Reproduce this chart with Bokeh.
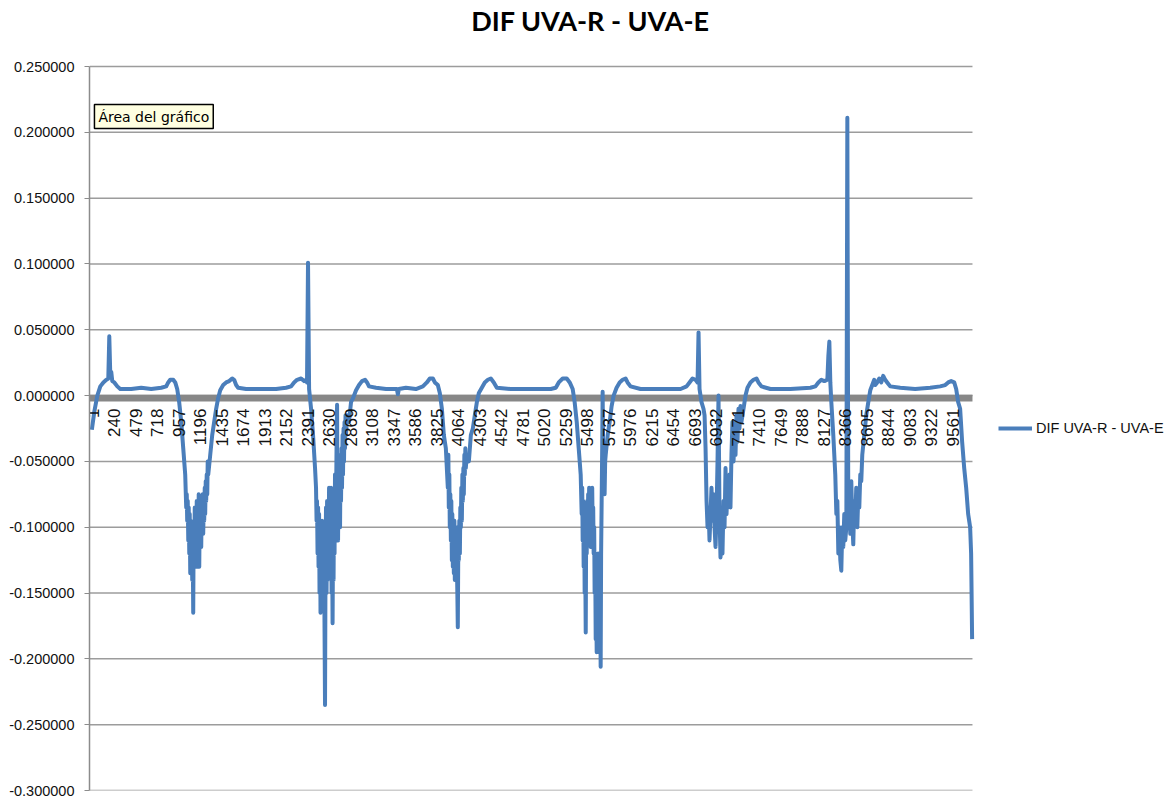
from bokeh.plotting import figure
from bokeh.models import (FixedTicker, PrintfTickFormatter, ColumnDataSource, Legend, LegendItem,
                          Label, BoxAnnotation)
from bokeh.core.properties import value
from bokeh.embed import file_html
from bokeh.resources import INLINE

# ---- data (sample index, DIF UVA-R - UVA-E) ----
idx_a = [1, 29, 62, 95, 129, 162, 184, 195, 206, 217, 228, 251, 284, 317, 439, 550, 661, 772, 828, 850,
         872, 906, 928, 950, 972, 995, 1017, 1039,
         1050, 1056, 1061, 1067, 1073, 1078, 1084, 1089, 1095, 1100, 1106, 1111, 1117, 1122, 1128, 1133,
         1139, 1145, 1150, 1156, 1162, 1167, 1173, 1178, 1184, 1189, 1195, 1200, 1206, 1211, 1217, 1222,
         1228, 1233, 1239, 1245, 1250, 1256, 1261, 1267, 1272, 1278, 1284, 1289, 1295,
         1317, 1339, 1361, 1383, 1405, 1428, 1461, 1494, 1528, 1561, 1583, 1605, 1627, 1716, 1883, 2049,
         2160, 2216, 2249, 2282, 2327, 2360, 2382, 2393]
val_a = [-0.026, -0.012, 0.000, 0.007, 0.010, 0.012, 0.013, 0.045, 0.016, 0.018, 0.011, 0.010, 0.007, 0.005,
         0.005, 0.006, 0.005, 0.006, 0.007, 0.010, 0.012, 0.012, 0.010, 0.005, -0.005, -0.020, -0.040, -0.060,
         -0.085, -0.075, -0.095, -0.080, -0.110, -0.085, -0.120, -0.090, -0.135, -0.095, -0.125, -0.100,
         -0.140, -0.110, -0.165, -0.100, -0.125, -0.085, -0.120, -0.090, -0.130, -0.080, -0.125, -0.095,
         -0.115, -0.075, -0.130, -0.090, -0.110, -0.080, -0.115, -0.085, -0.100, -0.075, -0.105, -0.080,
         -0.095, -0.070, -0.090, -0.065, -0.080, -0.060, -0.075, -0.050, -0.060,
         -0.045, -0.030, -0.020, -0.010, -0.002, 0.004, 0.008, 0.010, 0.011, 0.013, 0.012, 0.008, 0.006,
         0.005, 0.005, 0.005, 0.006, 0.007, 0.010, 0.012, 0.013, 0.011, 0.012, 0.010]

idx_b = [2404, 2416, 2438, 2460, 2482,
         2493, 2499, 2504, 2510, 2516, 2521, 2527, 2532, 2538, 2543, 2549, 2554, 2560, 2566, 2571, 2577,
         2582, 2588, 2593, 2599, 2604, 2610, 2616, 2621, 2627, 2632, 2638, 2643, 2649, 2654, 2660, 2666,
         2671, 2677, 2682, 2688, 2693, 2699, 2704, 2710, 2715, 2721, 2727, 2732, 2738, 2743, 2749, 2754,
         2760, 2766, 2771, 2777, 2782, 2788, 2793, 2799, 2804, 2810, 2815, 2821, 2826, 2838, 2860, 2882,
         2904, 2938, 2971, 3004, 3038, 3060, 3082, 3160, 3271, 3392, 3403, 3414, 3492, 3603, 3681, 3725,
         3758, 3792, 3814, 3847, 3869]
val_b = [0.101, 0.005, -0.010, -0.030, -0.055,
         -0.070, -0.095, -0.080, -0.120, -0.085, -0.130, -0.090, -0.150, -0.095, -0.165, -0.100, -0.160,
         -0.095, -0.140, -0.105, -0.150, -0.110, -0.180, -0.235, -0.120, -0.085, -0.150, -0.080, -0.140,
         -0.095, -0.120, -0.070, -0.130, -0.085, -0.120, -0.070, -0.150, -0.100, -0.173, -0.110, -0.140,
         -0.080, -0.120, -0.060, -0.110, -0.090, -0.040, -0.007, -0.090, -0.110, -0.060, -0.095, -0.050,
         -0.100, -0.045, -0.080, -0.040, -0.070, -0.030, -0.060, -0.025, -0.050, -0.020, -0.040, -0.015,
         -0.030, -0.015, -0.020, -0.005,
         -0.002, 0.004, 0.008, 0.011, 0.012, 0.010, 0.007, 0.006, 0.005, 0.005, 0.001, 0.005, 0.006, 0.005,
         0.007, 0.010, 0.013, 0.013, 0.010, 0.008, 0.002]

idx_c = [3892, 3914, 3936,
         3958, 3964, 3969, 3975, 3980, 3986, 3992, 3997, 4003, 4008, 4014, 4020, 4025, 4031, 4036, 4042,
         4047, 4053, 4058, 4064, 4069, 4075, 4080, 4086, 4092, 4097, 4103, 4108, 4114, 4120, 4125, 4131,
         4136, 4142, 4147, 4153, 4158, 4169,
         4192, 4214, 4236, 4258, 4281, 4303, 4336, 4369, 4403, 4436, 4469, 4503, 4658, 4880, 5102, 5158,
         5191, 5235, 5280, 5313, 5346]
val_c = [-0.010, -0.030, -0.040,
         -0.070, -0.045, -0.085, -0.060, -0.100, -0.075, -0.110, -0.080, -0.125, -0.090, -0.130, -0.100,
         -0.135, -0.095, -0.140, -0.105, -0.130, -0.100, -0.125, -0.150, -0.176, -0.110, -0.125, -0.095,
         -0.120, -0.085, -0.100, -0.070, -0.095, -0.060, -0.080, -0.055, -0.075, -0.045, -0.060, -0.040,
         -0.055, -0.045,
         -0.050, -0.030, -0.025, -0.015, -0.005, 0.002, 0.006, 0.010, 0.012, 0.013, 0.010, 0.006, 0.005,
         0.005, 0.005, 0.006, 0.010, 0.013, 0.013, 0.010, 0.005]

idx_d = [5368, 5391, 5413, 5435,
         5446, 5452, 5457, 5463, 5468, 5474, 5479, 5485, 5491, 5496, 5502, 5507, 5513, 5518, 5524, 5529,
         5535, 5541, 5546, 5552, 5557, 5563, 5568, 5574, 5579, 5585, 5590, 5596, 5602, 5607, 5613, 5618,
         5624, 5629, 5635, 5640, 5646, 5652, 5657, 5662, 5668, 5674, 5679, 5685, 5690, 5696, 5701, 5707,
         5713, 5735, 5757, 5779, 5801, 5834, 5868, 5901, 5934, 5956, 5989, 6100, 6323, 6545, 6612, 6645,
         6678, 6712, 6734]
val_d = [-0.005, -0.020, -0.040, -0.060,
         -0.090, -0.070, -0.110, -0.080, -0.130, -0.090, -0.150, -0.120, -0.180, -0.100, -0.120, -0.080,
         -0.110, -0.075, -0.100, -0.070, -0.110, -0.075, -0.115, -0.080, -0.110, -0.070, -0.100, -0.085,
         -0.120, -0.100, -0.150, -0.120, -0.185, -0.150, -0.195, -0.140, -0.180, -0.120, -0.190, -0.130,
         -0.195, -0.150, -0.206, -0.120, -0.080, -0.040, 0.003, -0.050, -0.070, -0.050, -0.075, -0.050,
         -0.045, -0.030, -0.020, -0.008, 0.000, 0.006, 0.010, 0.012, 0.013, 0.010, 0.007, 0.005, 0.005,
         0.005, 0.007, 0.010, 0.013, 0.012, 0.010]

idx_e = [6745, 6756, 6778, 6800, 6812, 6823, 6834, 6845, 6856, 6867, 6878, 6889, 6900, 6912, 6923, 6934,
         6945, 6956, 6967, 6978, 6989, 7000, 7011, 7023, 7034, 7045, 7056, 7067, 7078, 7089, 7100, 7111,
         7122, 7134, 7145, 7156, 7167, 7178, 7189, 7200, 7211, 7222, 7245, 7267, 7289, 7322, 7356, 7389,
         7411, 7444, 7544, 7766, 7988, 8044, 8077, 8110, 8144, 8177, 8188]
val_e = [0.048, 0.005, -0.005, -0.010, -0.015, -0.040, -0.080, -0.100, -0.085, -0.110, -0.090, -0.070,
         -0.095, -0.075, -0.100, -0.115, -0.090, -0.050, 0.000, -0.090, -0.123, -0.110, -0.120, -0.080,
         -0.100, -0.055, -0.090, -0.070, -0.080, -0.060, -0.085, -0.045, -0.020, -0.050, -0.030, -0.045,
         -0.015, -0.035, -0.010, -0.025, -0.008, -0.020, -0.010, 0.000, 0.006, 0.010, 0.012, 0.013, 0.010,
         0.007, 0.005, 0.005, 0.006, 0.007, 0.010, 0.012, 0.011, 0.012, 0.030]

idx_f = [8199, 8210, 8221, 8243, 8265, 8277, 8288, 8299, 8310, 8321, 8332, 8343, 8354, 8365, 8376, 8388,
         8399, 8410, 8421, 8432, 8443, 8454, 8465, 8476, 8487, 8498, 8510, 8521, 8532, 8543, 8554, 8565,
         8587, 8609, 8632, 8654, 8676, 8698, 8709, 8731, 8754, 8776, 8798, 8820, 8842, 8876, 8987, 9153,
         9320, 9431, 9487, 9520, 9553, 9587, 9609, 9631, 9653, 9675, 9698, 9720, 9742, 9753, 9764, 9775,
         9786]
val_f = [0.041, 0.010, -0.005, -0.030, -0.060, -0.090, -0.080, -0.120, -0.100, -0.125, -0.133, -0.100,
         -0.115, -0.090, -0.110, -0.100, 0.211, -0.100, -0.085, -0.105, -0.065, -0.095, -0.113, -0.080,
         -0.095, -0.070, -0.100, -0.075, -0.085, -0.060, -0.065, -0.045, -0.030, -0.015, -0.005, 0.004,
         0.008, 0.012, 0.008, 0.010, 0.013, 0.010, 0.015, 0.012, 0.010, 0.007, 0.006, 0.005, 0.006, 0.007,
         0.008, 0.010, 0.011, 0.010, 0.005, -0.005, -0.010, -0.035, -0.055, -0.070, -0.090, -0.095, -0.100,
         -0.120, -0.185]

x_tick_labels = [str(1 + 239 * k) for k in range(41)]
y_ticks = [-0.30, -0.25, -0.20, -0.15, -0.10, -0.05, 0.00, 0.05, 0.10, 0.15, 0.20, 0.25]

series_name = "DIF UVA-R - UVA-E"
title_text = "DIF UVA-R - UVA-E"
tip_text = "Área del gráfico"

xs = idx_a + idx_b + idx_c + idx_d + idx_e + idx_f
ys = val_a + val_b + val_c + val_d + val_e + val_f

FONT = "Liberation Sans"
BLUE = "#4A7EBB"
GRID = "#9C9C9C"

# plotted span; the frame extends further right (legend) and up (title)
X0, X1 = -25, 9790
Y0, Y1 = -0.30, 0.25

p = figure(width=1168, height=798, output_backend="svg", toolbar_location=None,
           x_range=(X0, 11969), y_range=(Y0, 0.30014),
           min_border_left=89, min_border_right=0, min_border_top=0, min_border_bottom=8)
p.xaxis.visible = False
p.xgrid.visible = False
p.ygrid.visible = False
p.outline_line_color = None

yax = p.yaxis[0]
yax.bounds = (Y0, Y1)
yax.ticker = FixedTicker(ticks=y_ticks)
yax.formatter = PrintfTickFormatter(format="%.6f")
yax.major_label_text_font = FONT
yax.major_label_text_font_size = "14.5px"
yax.major_label_text_color = "#111111"
yax.axis_line_color = "#8C8C8C"
yax.axis_line_width = 1.5
yax.major_tick_line_color = "#8C8C8C"
yax.major_tick_in = 0
yax.major_tick_out = 5
yax.minor_tick_line_color = None
yax.major_label_standoff = 10

# horizontal gridlines over the category span only
p.segment(x0=[X0] * len(y_ticks), x1=[X1] * len(y_ticks), y0=y_ticks, y1=y_ticks,
          line_color=GRID, line_width=1.5, level="underlay")

# thick gray category axis at zero
p.add_layout(BoxAnnotation(left=X0, right=X1, top=0.0006, bottom=-0.0045, fill_color="#878787",
                           fill_alpha=1.0, line_color=None, level="underlay"))

src = ColumnDataSource(dict(x=xs, y=ys))
r = p.line("x", "y", source=src, line_color=BLUE, line_width=4, line_join="round")

# category labels hanging below the zero axis
lab_src = ColumnDataSource(dict(x=[int(t) for t in x_tick_labels], y=[0.0] * len(x_tick_labels),
                                t=x_tick_labels))
p.text("x", "y", text="t", source=lab_src, angle=1.5708, text_align="right", text_baseline="middle",
       text_font=value(FONT), text_font_size="17px", text_color="#111111", y_offset=13, x_offset=1)

legend = Legend(items=[LegendItem(label=series_name, renderers=[r])], location=(909, 353),
                glyph_width=34, glyph_height=18, label_standoff=4, padding=0, margin=0,
                border_line_color=None, background_fill_alpha=0,
                label_text_font=FONT, label_text_font_size="14.5px", label_text_color="#111111")
p.add_layout(legend, "center")

title = Label(x=5544, y=0.2849, text=title_text, text_align="center", text_baseline="middle",
              text_font="Lato", text_font_style="bold", text_font_size="27px", text_color="#000000")
p.add_layout(title)

tip = Label(x=30, y=0.2120, text=tip_text, text_align="left", text_baseline="middle",
            text_font="DejaVu Sans", text_font_size="14px", text_color="#000000",
            background_fill_color="#FFFFE1", border_line_color="#000000", border_line_width=1.5,
            padding=4)
p.add_layout(tip)

open("out.html", "w").write(file_html(p, INLINE))
